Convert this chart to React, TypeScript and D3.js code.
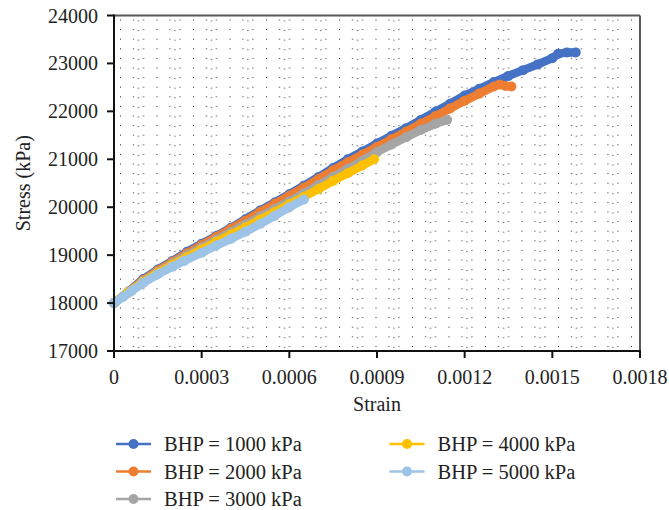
import React from "react";
import * as d3 from "d3";

// ---- data ----
const seriesNames = ["BHP = 1000 kPa", "BHP = 2000 kPa", "BHP = 3000 kPa", "BHP = 4000 kPa", "BHP = 5000 kPa"];
const seriesColors = ["#4472C4", "#ED7D31", "#A5A5A5", "#FFC000", "#9DC3E6"];

const bhp1000Strain = [0, 0.00005, 0.0001, 0.00015, 0.0002, 0.00025, 0.0003, 0.00035, 0.0004, 0.00045, 0.0005, 0.00055, 0.0006, 0.00065, 0.0007, 0.00075, 0.0008, 0.00085, 0.0009, 0.00095, 0.001, 0.00105, 0.0011, 0.00115, 0.0012, 0.00125, 0.0013, 0.00135, 0.0014, 0.00145, 0.0015, 0.00152, 0.00155, 0.00158];
const bhp1000Stress = [18000, 18240, 18500, 18700, 18880, 19070, 19240, 19400, 19570, 19750, 19930, 20100, 20270, 20450, 20630, 20820, 21000, 21160, 21330, 21490, 21650, 21820, 21990, 22160, 22330, 22470, 22610, 22740, 22860, 22980, 23110, 23200, 23230, 23230];

const bhp2000Strain = [0, 0.00005, 0.0001, 0.00015, 0.0002, 0.00025, 0.0003, 0.00035, 0.0004, 0.00045, 0.0005, 0.00055, 0.0006, 0.00065, 0.0007, 0.00075, 0.0008, 0.00085, 0.0009, 0.00095, 0.001, 0.00105, 0.0011, 0.00115, 0.0012, 0.00125, 0.0013, 0.00132, 0.00134, 0.00136];
const bhp2000Stress = [18000, 18230, 18480, 18680, 18860, 19040, 19210, 19380, 19550, 19720, 19900, 20070, 20240, 20410, 20590, 20770, 20940, 21100, 21260, 21420, 21580, 21740, 21900, 22060, 22220, 22370, 22520, 22560, 22530, 22520];

const bhp3000Strain = [0, 0.00005, 0.0001, 0.00015, 0.0002, 0.00025, 0.0003, 0.00035, 0.0004, 0.00045, 0.0005, 0.00055, 0.0006, 0.00065, 0.0007, 0.00075, 0.0008, 0.00085, 0.0009, 0.00095, 0.001, 0.00105, 0.0011, 0.00114];
const bhp3000Stress = [18000, 18220, 18460, 18650, 18830, 19000, 19160, 19320, 19480, 19640, 19800, 19960, 20120, 20290, 20460, 20630, 20800, 20970, 21150, 21310, 21460, 21610, 21740, 21820];

const bhp4000Strain = [0, 0.00005, 0.0001, 0.00015, 0.0002, 0.00025, 0.0003, 0.00035, 0.0004, 0.00045, 0.0005, 0.00055, 0.0006, 0.00065, 0.0007, 0.00075, 0.0008, 0.00085, 0.00089];
const bhp4000Stress = [18000, 18230, 18440, 18630, 18800, 18960, 19120, 19280, 19430, 19580, 19740, 19900, 20060, 20220, 20380, 20550, 20710, 20870, 21000];

const bhp5000Strain = [0, 0.00003, 0.00006, 0.0001, 0.00015, 0.0002, 0.00024, 0.0003, 0.00035, 0.0004, 0.00045, 0.0005, 0.00055, 0.0006, 0.00065];
const bhp5000Stress = [18000, 18120, 18250, 18420, 18600, 18760, 18880, 19050, 19200, 19340, 19490, 19650, 19820, 20000, 20160];

const xTicks = [0, 0.0003, 0.0006, 0.0009, 0.0012, 0.0015, 0.0018];
const xTickLabels = ["0", "0.0003", "0.0006", "0.0009", "0.0012", "0.0015", "0.0018"];
const yTicks = [17000, 18000, 19000, 20000, 21000, 22000, 23000, 24000];

const strains = [bhp1000Strain, bhp2000Strain, bhp3000Strain, bhp4000Strain, bhp5000Strain];
const stresses = [bhp1000Stress, bhp2000Stress, bhp3000Stress, bhp4000Stress, bhp5000Stress];

const W = 669;
const H = 510;
const plot = { left: 114, right: 640, top: 15.5, bottom: 351 };
const FONT = "'Liberation Serif', 'Times New Roman', serif";

export default function App() {
  const x = d3.scaleLinear().domain([0, 0.0018]).range([plot.left, plot.right]);
  const y = d3.scaleLinear().domain([17000, 24000]).range([plot.bottom, plot.top]);

  const series = seriesNames.map((name, i) => ({
    name,
    color: seriesColors[i],
    points: strains[i].map((s, j) => [s, stresses[i][j]] as [number, number]),
  }));

  const line = d3
    .line<[number, number]>()
    .x((d) => x(d[0]))
    .y((d) => y(d[1]));

  const legendItems = [
    { i: 0, lx: 116, ly: 444 },
    { i: 1, lx: 116, ly: 471.5 },
    { i: 2, lx: 116, ly: 499 },
    { i: 3, lx: 389.5, ly: 444 },
    { i: 4, lx: 389.5, ly: 471.5 },
  ];

  return (
    <svg
      width={W}
      height={H}
      style={{ position: "absolute", left: 0, top: 0, background: "#fff" }}
      fontFamily={FONT}
    >
      <defs>
        <pattern id="dots" patternUnits="userSpaceOnUse" width={36.5} height={9.6} x={plot.left + 6} y={plot.top + 4}>
          <rect x={0} y={0} width={1} height={1} fill="#222" />
          <rect x={13} y={0} width={1} height={1} fill="#222" />
          <rect x={18} y={1} width={1} height={1} fill="#222" />
          <rect x={23} y={0} width={1} height={1} fill="#222" />
        </pattern>
      </defs>

      <rect x={plot.left} y={plot.top} width={plot.right - plot.left} height={plot.bottom - plot.top} fill="url(#dots)" />

      {/* frame: top and right */}
      <line x1={plot.left} x2={plot.right} y1={plot.top} y2={plot.top} stroke="#595959" strokeWidth={2} />
      <line x1={plot.right} x2={plot.right} y1={plot.top} y2={plot.bottom} stroke="#595959" strokeWidth={2} />

      {/* series */}
      {series.map((s) => (
        <g key={s.name}>
          <path
            d={line(s.points) || ""}
            fill="none"
            stroke={s.color}
            strokeWidth={8.5}
            strokeLinejoin="round"
            strokeLinecap="round"
          />
          {s.points.map((p, j) => (
            <circle key={j} cx={x(p[0])} cy={y(p[1])} r={5} fill={s.color} />
          ))}
        </g>
      ))}

      {/* left axis */}
      <line x1={plot.left} x2={plot.left} y1={plot.top - 1} y2={plot.bottom + 1} stroke="#111" strokeWidth={2} />
      {yTicks.map((t) => (
        <g key={t}>
          <line x1={plot.left - 7} x2={plot.left} y1={y(t)} y2={y(t)} stroke="#111" strokeWidth={2} />
          <text x={98} y={y(t)} dy="0.35em" textAnchor="end" fontSize={20} fill="#222">
            {t}
          </text>
        </g>
      ))}

      {/* bottom axis */}
      <line x1={plot.left - 7} x2={plot.right + 1} y1={plot.bottom} y2={plot.bottom} stroke="#111" strokeWidth={2} />
      {xTicks.map((t, i) => (
        <g key={t}>
          <line x1={x(t)} x2={x(t)} y1={plot.bottom} y2={plot.bottom + 7} stroke="#111" strokeWidth={2} />
          <text x={x(t)} y={377} dy="0.35em" textAnchor="middle" fontSize={20} fill="#222">
            {xTickLabels[i]}
          </text>
        </g>
      ))}

      {/* axis titles */}
      <text x={(plot.left + plot.right) / 2} y={404} dy="0.35em" textAnchor="middle" fontSize={20} fill="#222">
        Strain
      </text>
      <text
        transform={`translate(23, ${(plot.top + plot.bottom) / 2}) rotate(-90)`}
        dy="0.35em"
        textAnchor="middle"
        fontSize={20}
        fill="#222"
      >
        Stress (kPa)
      </text>

      {/* legend */}
      {legendItems.map(({ i, lx, ly }) => (
        <g key={i}>
          <line x1={lx} x2={lx + 35} y1={ly} y2={ly} stroke={seriesColors[i]} strokeWidth={2.5} />
          <circle cx={lx + 17.5} cy={ly} r={5} fill={seriesColors[i]} />
          <text x={lx + 48} y={ly} dy="0.35em" fontSize={20.5} fill="#222">
            {seriesNames[i]}
          </text>
        </g>
      ))}
    </svg>
  );
}
